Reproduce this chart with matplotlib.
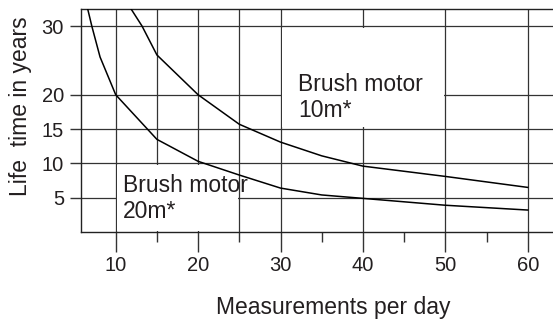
import matplotlib.pyplot as plt
from matplotlib.patches import Rectangle

plt.rcParams['font.family'] = ['Liberation Sans', 'DejaVu Sans']

# life time curves (years) against measurements per day
x_20m = [6.5, 7.1, 8.1, 10, 15, 20, 25, 30, 35, 40, 50, 60]
y_20m = [33.0, 30.0, 25.5, 20.0, 13.5, 10.3, 8.3, 6.4, 5.4, 4.9, 3.9, 3.2]

x_10m = [11.6, 13.2, 15, 20, 25, 30, 35, 40, 50, 60]
y_10m = [33.0, 30.0, 25.8, 20.0, 15.7, 13.1, 11.1, 9.6, 8.1, 6.5]

x_major = [10, 20, 30, 40, 50, 60]
x_minor = [15, 25, 35, 45, 55]
x_grid = [10, 15, 20, 25, 30, 40, 50, 60]
y_ticks = [5, 10, 15, 20, 30]

ink = '#231f20'
line_col = '#333333'

fig = plt.figure(figsize=(5.53, 3.21), dpi=100)
ax = fig.add_axes([80.7 / 553, 89 / 321, 1 - 80.7 / 553, 223 / 321])
ax.set_xlim(5.75, 63.07)
ax.set_ylim(0, 32.5)

# grid
for gx in x_grid:
    ax.axvline(gx, color=line_col, lw=0.9, zorder=1)
for gy in y_ticks:
    ax.axhline(gy, color=line_col, lw=0.9, zorder=1)

# white label panels that mask the grid
ax.add_patch(Rectangle((10.2, 0.2), 14.6, 9.6, facecolor='white',
                       edgecolor='none', zorder=2))
ax.add_patch(Rectangle((30.2, 15.25), 19.6, 14.5, facecolor='white',
                       edgecolor='none', zorder=2))

ax.plot(x_20m, y_20m, color='black', lw=1.1, zorder=3)
ax.plot(x_10m, y_10m, color='black', lw=1.1, zorder=3)

# baseline here is the one of the last line
ax.text(10.88, 2.04, 'Brush motor\n20m*', fontsize=16.5, color=ink,
        va='baseline', ha='left', zorder=4, linespacing=1.18)
ax.text(32.12, 16.75, 'Brush motor\n10m*', fontsize=16.5, color=ink,
        va='baseline', ha='left', zorder=4, linespacing=1.18)

# axes frame
for side in ['top', 'left', 'bottom']:
    ax.spines[side].set_color('#222222')
    ax.spines[side].set_linewidth(1.0)
ax.spines['right'].set_visible(False)

ax.set_xticks(x_major)
ax.set_xticks(x_minor, minor=True)
ax.set_yticks(y_ticks)
ax.tick_params(axis='x', which='major', length=14.4, width=1.0,
               color=line_col, labelsize=14.5, labelcolor=ink, pad=3)
ax.tick_params(axis='x', which='minor', length=7.2, width=1.0,
               color=line_col)
ax.tick_params(axis='y', length=8, width=1.0, color=line_col,
               labelsize=14.5, labelcolor=ink, pad=4)

ax.set_xlabel('Measurements per day', fontsize=16.5, color=ink)
ax.xaxis.set_label_coords(0.534, -0.34)
ax.xaxis.label.set_va('center')
ax.set_ylabel('Life  time in years', fontsize=16.5, color=ink)
ax.yaxis.set_label_coords(-0.1285, 0.565)
ax.yaxis.label.set_va('center')

fig.savefig('out.png', dpi=100)
